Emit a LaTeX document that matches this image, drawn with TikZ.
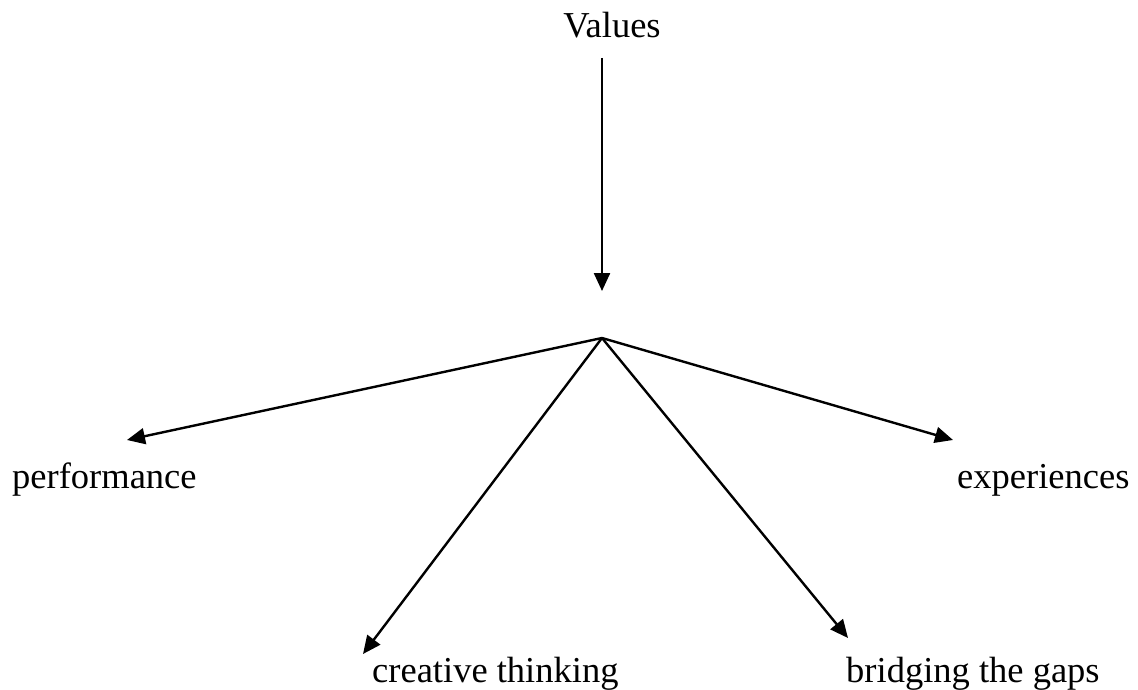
\documentclass[tikz,border=0pt]{standalone}
\usepackage{fontspec}
\setmainfont{Liberation Serif}
\usetikzlibrary{arrows.meta}
\begin{document}
\begin{tikzpicture}[x=1pt,y=-1pt,
  lbl/.style={inner sep=0pt,anchor=base west,font=\fontsize{36.5}{44}\selectfont},
  conn/.style={line width=2.4pt,-{Triangle[length=18pt,width=16pt]}}]
\useasboundingbox (0,0) rectangle (1138,690);
\node[lbl,anchor=base] (values) at (612,38) {Values};
\coordinate (vstart) at (602,58);
\coordinate (vend) at (602,291);
\coordinate (hub) at (602,338);
\coordinate (pend) at (127,440);
\coordinate (cend) at (363,654);
\coordinate (bend) at (848,638);
\coordinate (eend) at (953,440);
\node[lbl] (perf) at (12,488) {performance};
\node[lbl] (exp) at (957,488) {experiences};
\node[lbl] (crea) at (372,682) {creative thinking};
\node[lbl] (brid) at (846,682) {bridging the gaps};
\draw[conn] (vstart) -- (vend);
\draw[conn] (hub) -- (pend);
\draw[conn] (hub) -- (cend);
\draw[conn] (hub) -- (bend);
\draw[conn] (hub) -- (eend);
\end{tikzpicture}
\end{document}
